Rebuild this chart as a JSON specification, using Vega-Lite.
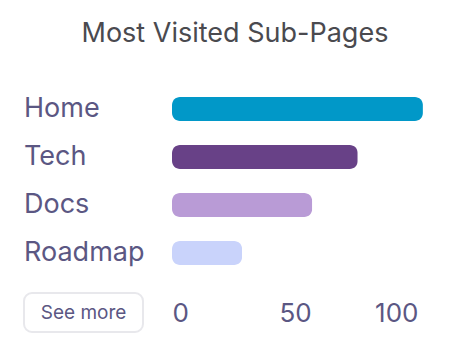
{
  "$schema": "https://vega.github.io/schema/vega-lite/v6.json",
  "background": "white",
  "padding": {"left": 23, "top": 20, "right": 5, "bottom": 5},
  "bounds": "flush",
  "spacing": 29,
  "title": {"text": "Most Visited Sub-Pages", "font": "Inter", "fontSize": 27, "fontWeight": 400, "color": "#4a4a4f", "anchor": "middle", "offset": 37, "dx": 12},
  "config": {"view": {"stroke": null}, "font": "Inter"},
  "hconcat": [
    {
      "width": 119,
      "height": 240,
      "data": {"values": [
        {"page": "Home", "kind": "label"},
        {"page": "Tech", "kind": "label"},
        {"page": "Docs", "kind": "label"},
        {"page": "Roadmap", "kind": "label"},
        {"page": "See more", "kind": "button"}
      ]},
      "encoding": {
        "y": {"field": "page", "type": "nominal", "sort": null, "scale": {"domain": ["Home", "Tech", "Docs", "Roadmap", "See more"], "paddingInner": 0.5, "paddingOuter": 0.25}, "axis": null}
      },
      "layer": [
        {
          "transform": [{"filter": "datum.kind === 'button'"}],
          "mark": {"type": "bar", "height": 39, "yOffset": 11.5, "cornerRadius": 8, "fill": "white", "stroke": "#e8e8ec", "strokeWidth": 2},
          "encoding": {
            "x": {"datum": 0, "type": "quantitative", "scale": {"domain": [0, 1]}, "axis": null},
            "x2": {"datum": 1}
          }
        },
        {
          "transform": [{"filter": "datum.kind === 'button'"}],
          "mark": {"type": "text", "align": "center", "baseline": "middle", "dy": 11.5, "fontSize": 19, "color": "#5b5783"},
          "encoding": {
            "x": {"datum": 0.5, "type": "quantitative"},
            "text": {"field": "page"}
          }
        },
        {
          "transform": [{"filter": "datum.kind === 'label'"}],
          "mark": {"type": "text", "align": "left", "baseline": "middle", "fontSize": 27, "color": "#5b5783"},
          "encoding": {
            "x": {"datum": 0, "type": "quantitative"},
            "text": {"field": "page"}
          }
        }
      ]
    },
    {
      "width": 246,
      "height": 192,
      "data": {"values": [
        {"page": "Home", "visits": 102},
        {"page": "Tech", "visits": 75.5},
        {"page": "Docs", "visits": 57},
        {"page": "Roadmap", "visits": 28.5}
      ]},
      "mark": {"type": "bar", "cornerRadius": 8},
      "encoding": {
        "y": {"field": "page", "type": "nominal", "sort": null, "scale": {"domain": ["Home", "Tech", "Docs", "Roadmap"], "paddingInner": 0.5, "paddingOuter": 0.25}, "axis": null},
        "x": {"field": "visits", "type": "quantitative", "scale": {"domain": [0, 100]}, "axis": {"values": [0, 50, 100], "domain": false, "ticks": false, "tickSize": 0, "grid": false, "labelFontSize": 26, "labelColor": "#5b5783", "labelPadding": 36, "labelBaseline": "middle", "labelFlush": true, "title": null}},
        "color": {"field": "page", "type": "nominal", "scale": {"domain": ["Home", "Tech", "Docs", "Roadmap"], "range": ["#0198c8", "#684187", "#b99bd6", "#c9d3fb"]}, "legend": null}
      }
    }
  ]
}
